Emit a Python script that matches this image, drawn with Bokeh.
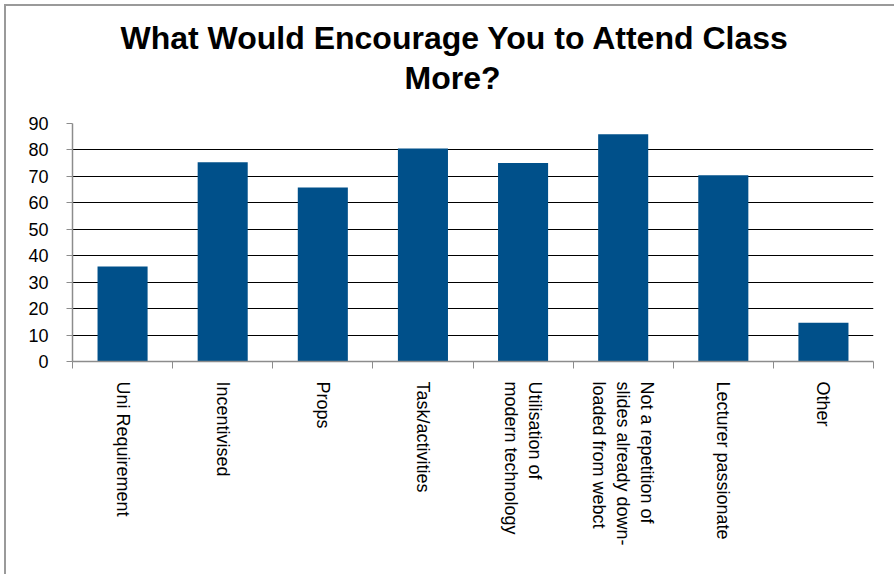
import math
from bokeh.plotting import figure
from bokeh.models import Range1d, FixedTicker, Title
from bokeh.embed import file_html
from bokeh.resources import INLINE

title_lines = ["What Would Encourage You to Attend Class", "More?"]
categories = [
    "Uni Requirement",
    "Incentivised",
    "Props",
    "Task/activities",
    "Utilisation of\nmodern technology",
    "Not a repetition of\nslides already down-\nloaded from webct",
    "Lecturer passionate",
    "Other",
]
values = [35.9, 75.3, 65.8, 80.5, 75.1, 85.9, 70.4, 14.7]
y_ticks = [0, 10, 20, 30, 40, 50, 60, 70, 80, 90]

FONT = "Liberation Sans"
BAR = "#00508A"
GRAY = "#8c8c8c"

xs = list(range(len(categories)))

p = figure(
    width=894, height=574,
    x_range=Range1d(-0.5, len(categories) - 0.5),
    y_range=Range1d(0, 90),
    output_backend="svg", toolbar_location=None, tools="",
    min_border_left=72, min_border_right=21,
    min_border_top=123, min_border_bottom=213,
)
p.outline_line_color = None
p.background_fill_color = "white"
p.border_fill_color = None
p.styles = {
    "background": (
        "linear-gradient(#9a9a9a, #9a9a9a) 4px 4px / 100% 2px no-repeat, "
        "linear-gradient(#9a9a9a, #9a9a9a) 4px 4px / 2px 100% no-repeat, white"
    ),
}

p.vbar(x=xs, top=values, width=0.5, color=BAR, line_color=None)

# y axis
p.yaxis.ticker = FixedTicker(ticks=y_ticks)
p.yaxis.axis_line_color = GRAY
p.yaxis.axis_line_width = 1.5
p.yaxis.major_tick_line_color = GRAY
p.yaxis.major_tick_out = 6
p.yaxis.major_tick_in = 0
p.yaxis.minor_tick_line_color = None
p.yaxis.major_label_standoff = 18
p.yaxis.major_label_text_font = FONT
p.yaxis.major_label_text_font_size = "18px"
p.yaxis.major_label_text_color = "black"

# x axis: labels at centres, tick marks at category boundaries
p.xaxis.ticker = FixedTicker(ticks=xs, minor_ticks=[i - 0.5 for i in range(len(categories) + 1)])
p.xaxis.major_label_overrides = {i: c for i, c in enumerate(categories)}
p.xaxis.major_tick_line_color = None
p.xaxis.major_tick_out = 0
p.xaxis.major_tick_in = 0
p.xaxis.minor_tick_line_color = GRAY
p.xaxis.minor_tick_out = 7
p.xaxis.minor_tick_in = 0
p.xaxis.axis_line_color = GRAY
p.xaxis.axis_line_width = 1.5
p.xaxis.major_label_orientation = -math.pi / 2
p.xaxis.major_label_standoff = 13
p.xaxis.major_label_text_font = FONT
p.xaxis.major_label_text_font_size = "18px"
p.xaxis.major_label_text_color = "black"

p.xgrid.visible = False
p.ygrid.ticker = FixedTicker(ticks=y_ticks)
p.ygrid.grid_line_color = "black"
p.ygrid.grid_line_width = 1

# invisible spacer between plot and title block
p.add_layout(Title(text="\u00a0", text_color="white", text_font_size="22px", standoff=0), "above")
# title (two lines; first added sits closest to the plot)
for txt, off, so in zip(reversed(title_lines), [332, 48], [2, 1]):
    p.add_layout(Title(
        text=txt, align="left", offset=off,
        text_font=FONT, text_font_size="32px", text_font_style="bold",
        text_color="black", standoff=so,
    ), "above")

open("out.html", "w").write(file_html(p, INLINE))
